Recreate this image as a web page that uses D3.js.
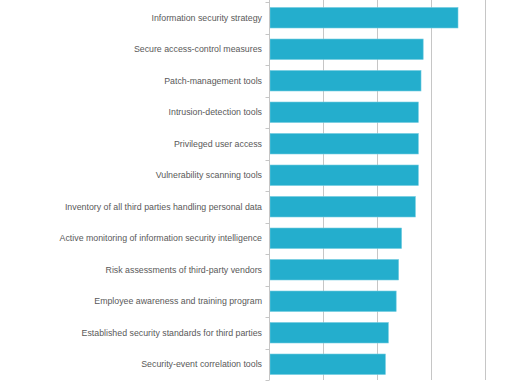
<!DOCTYPE html>
<html lang="en">
<head>
    <meta charset="UTF-8">
    <title>Security measures</title>
    <script src="https://d3js.org/d3.v7.min.js"></script>
    <style>
        body { margin: 0; background: #fff; }
    </style>
</head>
<body>
    <div id="chart"></div>
    <script>
        const width = 510;
        const height = 382;

        // Categories, top to bottom
        const categories = [
            "Information security strategy",
            "Secure access-control measures",
            "Patch-management tools",
            "Intrusion-detection tools",
            "Privileged user access",
            "Vulnerability scanning tools",
            "Inventory of all third parties handling personal data",
            "Active monitoring of information security intelligence",
            "Risk assessments of third-party vendors",
            "Employee awareness and training program",
            "Established security standards for third parties",
            "Security-event correlation tools"
        ];
        // Share of respondents (%)
        const values = [70.0, 57.1, 56.3, 55.3, 55.3, 55.3, 54.2, 49.1, 48.0, 47.1, 44.2, 43.1];
        const xTicks = [0, 20, 40, 60, 80, 100];

        const data = categories.map((c, i) => ({ name: c, value: values[i] }));

        const svg = d3.select("#chart")
            .append("svg")
            .attr("width", width)
            .attr("height", height);

        const x = d3.scaleLinear()
            .domain([0, 100])
            .range([269, 539]);

        const y = d3.scaleBand()
            .domain(categories)
            .range([2, 380])
            .paddingInner(0.35)
            .paddingOuter(0.175);

        // vertical gridlines
        svg.append("g")
            .selectAll("line")
            .data(xTicks.slice(1))
            .join("line")
            .attr("x1", d => Math.round(x(d)) + 0.5)
            .attr("x2", d => Math.round(x(d)) + 0.5)
            .attr("y1", 0)
            .attr("y2", 380)
            .attr("stroke", "#c6c6c6")
            .attr("stroke-width", 1);

        // bars
        svg.append("g")
            .selectAll("rect")
            .data(data)
            .join("rect")
            .attr("x", x(0) + 1)
            .attr("y", d => y(d.name))
            .attr("width", d => x(d.value) - x(0) - 1)
            .attr("height", y.bandwidth())
            .attr("fill", "#24aecd")
            .attr("stroke", "#6fcbe0")
            .attr("stroke-width", 0.6);

        // category axis
        const yAxis = svg.append("g")
            .attr("transform", `translate(${Math.round(x(0)) + 0.5},0)`);

        yAxis.append("line")
            .attr("y1", 0)
            .attr("y2", 380)
            .attr("stroke", "#c6c6c6");

        // tick marks between categories
        const step = y.step();
        const bounds = d3.range(categories.length + 1).map(i => y.range()[0] + i * step);
        yAxis.selectAll(".tk")
            .data(bounds)
            .join("line")
            .attr("class", "tk")
            .attr("x1", -4)
            .attr("x2", 0)
            .attr("y1", d => Math.round(d) + 0.5)
            .attr("y2", d => Math.round(d) + 0.5)
            .attr("stroke", "#c6c6c6");

        // labels
        svg.append("g")
            .selectAll("text")
            .data(data)
            .join("text")
            .attr("x", 262)
            .attr("y", d => y(d.name) + y.bandwidth() / 2)
            .attr("dy", "0.35em")
            .attr("text-anchor", "end")
            .attr("font-family", "Liberation Sans, Arial, sans-serif")
            .attr("font-size", 8.8)
            .attr("fill", "#595959")
            .text(d => d.name);
    </script>
</body>
</html>
